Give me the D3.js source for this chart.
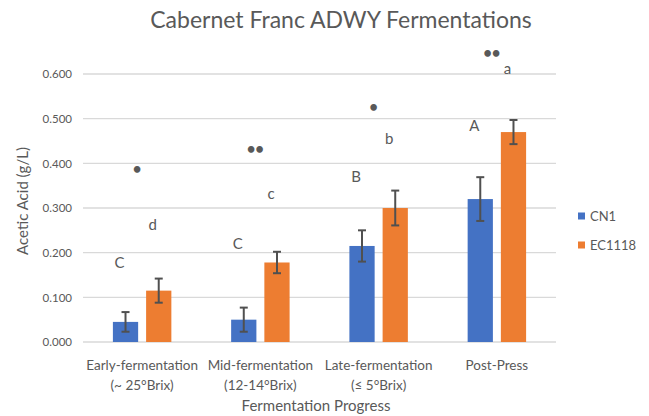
<!DOCTYPE html>
<html>
<head>
<meta charset="utf-8">
<script src="https://cdn.jsdelivr.net/npm/d3@7"></script>
<style>
  html, body { margin: 0; padding: 0; background: #fff; }
  text { font-family: Lato, "Open Sans", sans-serif; fill: #595959; }
</style>
</head>
<body>
<svg id="chart" width="649" height="416"></svg>
<script>
// ---- data ----
const categories = ["Early-fermentation|(~ 25°Brix)", "Mid-fermentation|(12-14°Brix)", "Late-fermentation|(≤ 5°Brix)", "Post-Press"];
const seriesNames = ["CN1", "EC1118"];
const cn1Values = [0.045, 0.050, 0.215, 0.320];
const ec1118Values = [0.115, 0.178, 0.300, 0.470];
const cn1Errors = [0.022, 0.027, 0.035, 0.049];
const ec1118Errors = [0.027, 0.024, 0.039, 0.027];
const yTicks = [0, 0.1, 0.2, 0.3, 0.4, 0.5, 0.6];
// significance letters (label, height in g/L)
const cn1Letters = ["C", "C", "B", "A"];
const cn1LetterHeights = [0.177, 0.219, 0.369, 0.484];
const ecLetters = ["d", "c", "b", "a"];
const ecLetterHeights = [0.262, 0.333, 0.454, 0.611];
const stars = ["•", "••", "•", "••"];
const starHeights = [0.387, 0.432, 0.526, 0.647];
const colors = ["#4472C4", "#ED7D31"];

// ---- layout ----
const svg = d3.select("#chart");
const plot = { left: 83, right: 556, top: 74, bottom: 342 };

const x = d3.scaleBand().domain(categories).range([plot.left, plot.right]).paddingInner(0).paddingOuter(0);
const xs = d3.scaleBand().domain(seriesNames).range([0, x.bandwidth()]).paddingInner(0.24).paddingOuter(0.9);
const y = d3.scaleLinear().domain([0, 0.6]).range([plot.bottom, plot.top]);

// gridlines
svg.append("g").selectAll("line").data(yTicks).join("line")
  .attr("x1", plot.left).attr("x2", plot.right)
  .attr("y1", d => y(d)).attr("y2", d => y(d))
  .attr("stroke", "#d9d9d9").attr("stroke-width", 1.3);

// y axis labels
const yAxis = d3.axisLeft(y).tickValues(yTicks).tickFormat(d3.format(".3f")).tickSize(0).tickPadding(11);
const yg = svg.append("g").attr("transform", `translate(${plot.left},0)`).call(yAxis);
yg.select(".domain").remove();
yg.selectAll("text").style("font-size", "11.5px").attr("fill", "#595959").style("font-family", "Lato, sans-serif");

// bars
const series = [
  { name: "CN1", values: cn1Values, errors: cn1Errors, color: colors[0] },
  { name: "EC1118", values: ec1118Values, errors: ec1118Errors, color: colors[1] }
];
series.forEach(s => {
  const g = svg.append("g");
  const rows = categories.map((c, i) => ({ c, v: s.values[i], e: s.errors[i] }));
  g.selectAll("rect").data(rows).join("rect")
    .attr("x", d => x(d.c) + xs(s.name))
    .attr("y", d => y(d.v))
    .attr("width", xs.bandwidth())
    .attr("height", d => y(0) - y(d.v))
    .attr("fill", s.color);
  const cx = d => x(d.c) + xs(s.name) + xs.bandwidth() / 2;
  g.selectAll("line.err").data(rows).join("line").attr("class", "err")
    .attr("x1", cx).attr("x2", cx)
    .attr("y1", d => y(d.v + d.e)).attr("y2", d => y(d.v - d.e))
    .attr("stroke", "#505050").attr("stroke-width", 2);
  ["top", "bot"].forEach(k => {
    g.selectAll("line.cap" + k).data(rows).join("line").attr("class", "cap" + k)
      .attr("x1", d => cx(d) - 4).attr("x2", d => cx(d) + 4)
      .attr("y1", d => y(k === "top" ? d.v + d.e : d.v - d.e))
      .attr("y2", d => y(k === "top" ? d.v + d.e : d.v - d.e))
      .attr("stroke", "#505050").attr("stroke-width", 2);
  });
});

// significance annotations
const annG = svg.append("g");
const barCenter = (i, s) => x(categories[i]) + xs(s) + xs.bandwidth() / 2;
categories.forEach((c, i) => {
  annG.append("text").attr("x", barCenter(i, "CN1") - 6).attr("y", y(cn1LetterHeights[i]))
    .attr("dy", "0.35em").attr("text-anchor", "middle").style("font-size", "15px").text(cn1Letters[i])
    .attr("fill", "#333");
  annG.append("text").attr("x", barCenter(i, "EC1118") - 6).attr("y", y(ecLetterHeights[i]))
    .attr("dy", "0.35em").attr("text-anchor", "middle").style("font-size", "15px").text(ecLetters[i])
    .attr("fill", "#333");
  annG.append("text").attr("x", x(c) + x.bandwidth() / 2 - 5).attr("y", y(starHeights[i]))
    .attr("dy", "0.35em").attr("text-anchor", "middle").style("font-size", "15px").style("font-weight", "bold")
    .attr("fill", "#222").text(stars[i]);
});

// x axis category labels
const xg = svg.append("g");
categories.forEach(c => {
  const lines = c.split("|");
  const t = xg.append("text").attr("x", x(c) + x.bandwidth() / 2).attr("y", 370)
    .attr("text-anchor", "middle").style("font-size", "13.5px");
  lines.forEach((l, j) => t.append("tspan").attr("x", x(c) + x.bandwidth() / 2).attr("dy", j === 0 ? 0 : 20).text(l));
});

// axis titles
svg.append("text").attr("x", 316).attr("y", 411).attr("text-anchor", "middle")
  .style("font-size", "15px").text("Fermentation Progress");
svg.append("text").attr("transform", `translate(28,201) rotate(-90)`)
  .attr("text-anchor", "middle").style("font-size", "15px").text("Acetic Acid (g/L)");

// title
svg.append("text").attr("x", 341).attr("y", 28).attr("text-anchor", "middle")
  .style("font-size", "23px").text("Cabernet Franc ADWY Fermentations");

// legend
const leg = svg.append("g");
series.forEach((s, i) => {
  const ly = 216 + i * 29;
  leg.append("rect").attr("x", 578).attr("y", ly - 3.5).attr("width", 7).attr("height", 7).attr("fill", s.color);
  leg.append("text").attr("x", 590).attr("y", ly).attr("dy", "0.35em").style("font-size", "13px").text(s.name);
});
</script>
</body>
</html>
